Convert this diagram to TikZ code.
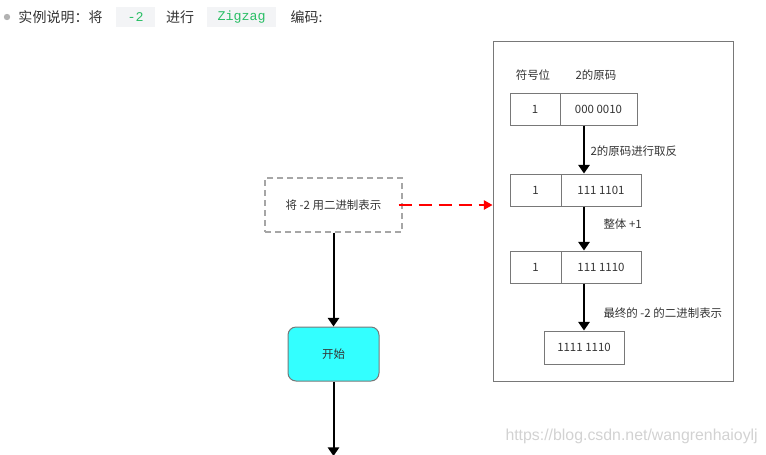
\documentclass[tikz,border=0pt]{standalone}
\usepackage{fontspec}
\setmainfont{Noto Sans CJK SC}
\newfontfamily\codefont{Liberation Mono}
\newfontfamily\markfont{Liberation Sans}
\usetikzlibrary{arrows.meta}
\definecolor{txtgray}{RGB}{51,51,51}
\definecolor{linegray}{RGB}{120,120,120}
\definecolor{codebg}{RGB}{243,244,246}
\definecolor{codegreen}{RGB}{40,190,100}
\definecolor{startcyan}{RGB}{51,255,255}
\tikzset{every picture/.style={line width=0.75pt}}

\begin{document}
\begin{tikzpicture}[x=0.75pt,y=0.75pt,yscale=-1,xscale=1,
  font=\fontsize{8.6}{10}\selectfont, text=txtgray,
  hdr/.style={font=\fontsize{10.5}{12}\selectfont, text=txtgray, inner sep=0pt},
  codebox/.style={fill=codebg, minimum height=15pt, inner sep=0pt, text=codegreen, font=\codefont\fontsize{10}{12}\selectfont},
  cell/.style={draw=linegray, minimum height=24pt, inner sep=0pt},
  blk/.style={line width=1.5pt, -{Triangle[width=8.5pt,length=6.5pt]}},
  lbl/.style={anchor=west, inner sep=0pt}]
\useasboundingbox (0,0) rectangle (766,454);

% Header line
\fill[gray!60] (7,17) circle [radius=3.2];
\node[hdr, anchor=west] (h1) at (18,17) {实例说明：将};
\node[codebox, minimum width=29.25pt] (h2) at (135.5,17) {-2};
\node[hdr] (h3) at (180,17) {进行};
\node[codebox, minimum width=51.75pt] (h4) at (241.5,17) {Zigzag};
\node[hdr, anchor=west] (h5) at (290,17) {编码:};

% Panel
\node[draw=linegray, minimum width=180pt, minimum height=255pt] (panel) at (613,211) {};
\node (t1) at (533,75) {符号位};
\node (t2) at (596,75) {2的原码};

% Rows
\node[cell, minimum width=37.5pt] (a1) at (535,109) {1};
\node[cell, minimum width=57.75pt] (a2) at (598.5,109) {000 0010};
\node[cell, minimum width=38.25pt] (b1) at (535.5,190) {1};
\node[cell, minimum width=60pt] (b2) at (601,190) {111 1101};
\node[cell, minimum width=38.25pt] (c1) at (535.5,267) {1};
\node[cell, minimum width=60pt] (c2) at (601,267) {111 1110};
\node[cell, minimum width=60pt, minimum height=24.75pt] (fin) at (584,347.5) {1111 1110};

% Connection
\draw[blk] (a2.south -| fin.north) -- (b2.north -| fin.north);
\node[lbl] (l1) at (590,151) {2的原码进行取反};
% Connection
\draw[blk] (b2.south -| fin.north) -- (c2.north -| fin.north);
\node[lbl] (l2) at (603,224) {整体 +1};
% Connection
\draw[blk] (c2.south -| fin.north) -- (fin.north);
\node[lbl] (l3) at (603,313) {最终的 -2 的二进制表示};

% Flow
\node[draw=gray!70, dash pattern=on 4.5pt off 3pt, line width=1.1pt, minimum width=102.75pt, minimum height=40.5pt] (src) at (333.5,205) {将 -2 用二进制表示};
\draw[red, line width=1.1pt, dash pattern=on 10pt off 5pt, -{Triangle[width=7pt,length=6.5pt]}] ([xshift=-3pt]src.east) -- (panel.west |- src.east);
\node[draw=linegray, fill=startcyan, rounded corners=6pt, minimum width=68.25pt, minimum height=40.5pt] (start) at (333.5,354) {开始};
\draw[blk] (src.south) -- (start.north);
\coordinate (out) at (333.5,456);
\draw[blk] (start.south) -- (out);

% Watermark
\node[anchor=west, inner sep=0pt, text=gray!35, font=\markfont\fontsize{11.9}{13}\selectfont] (wm) at (505,436) {https://blog.csdn.net/wangrenhaioylj};
\end{tikzpicture}
\end{document}
